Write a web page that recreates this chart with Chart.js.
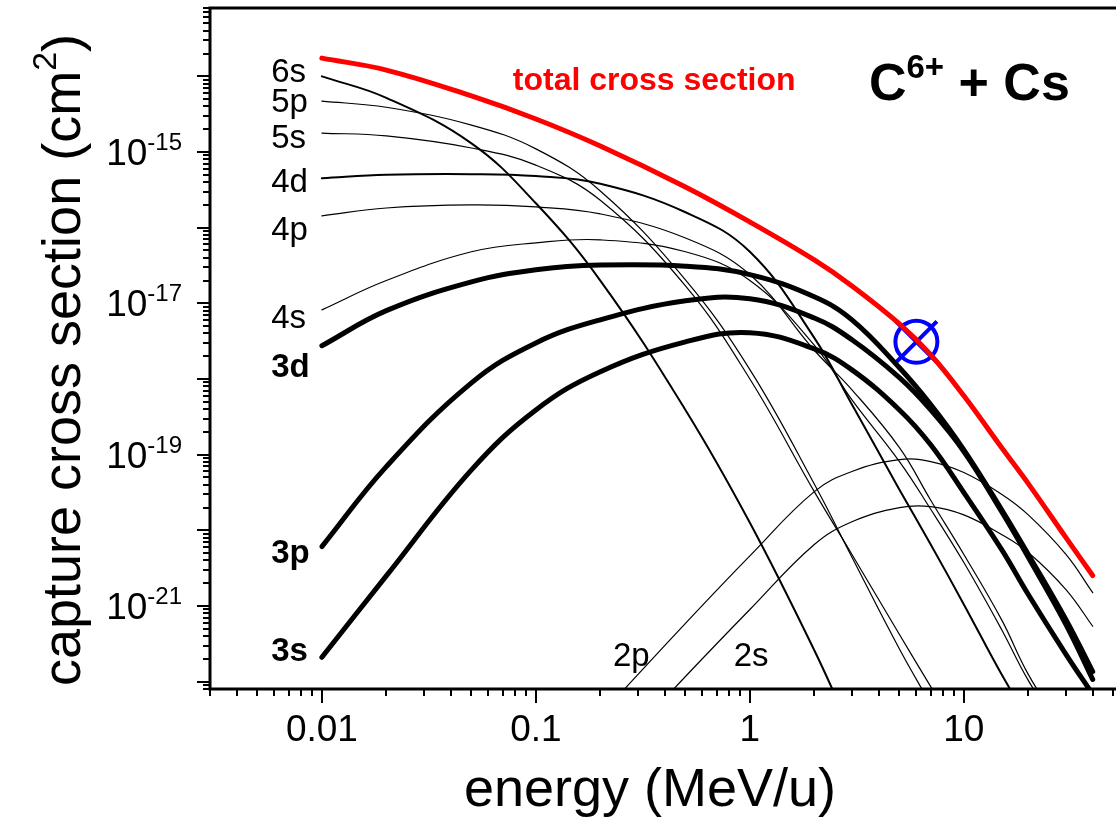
<!DOCTYPE html>
<html>
<head>
  <meta charset="utf-8">
  <title>C6+ + Cs capture cross sections</title>
  <script src="https://cdn.jsdelivr.net/npm/chart.js"></script>
  <style>
    html, body { margin: 0; padding: 0; background: #fff; }
    #wrap { width: 1116px; height: 821px; }
  </style>
</head>
<body>
  <div id="wrap"><canvas id="chart"></canvas></div>

  <script>
    // energy grid (MeV/u), shared by every curve
    const energy = [0.01, 0.02, 0.05, 0.1, 0.2, 0.5, 1, 2, 3, 5, 7, 10, 15, 20, 30, 40];

    // capture cross sections (cm^2), null = not drawn
    const total = [1.74e-14, 1.21e-14, 5.5e-15, 2.73e-15, 1.2e-15, 3.45e-16, 1.19e-16, 3.75e-17, 1.7e-17, 5.36e-18, 2.09e-18, 6.0e-19, 1.24e-19, 4.14e-20, 8.0e-21, 2.53e-21];
    const s6s = [1.0e-14, 5.2e-15, 1.3e-15, 2.1e-16, 2.0e-17, 3.9e-19, 1.26e-20, 2.6e-22, 2.1e-23, null, null, null, null, null, null, null];
    const s5p = [4.7e-15, 3.9e-15, 2.27e-15, 1.1e-15, 3.05e-16, 2.04e-17, 1.33e-18, 4.1e-20, 4.4e-21, 2.7e-22, 5.0e-23, null, null, null, null, null];
    const s5s = [1.78e-15, 1.63e-15, 1.13e-15, 6.7e-16, 2.3e-16, 1.7e-17, 1.0e-18, 3.25e-20, 4.8e-21, 4.2e-22, 8.6e-23, 1.6e-23, null, null, null, null];
    const s4d = [4.5e-16, 5.0e-16, 5.1e-16, 4.8e-16, 3.8e-16, 1.6e-16, 4.8e-17, 3.5e-18, 4.6e-19, 3.45e-20, 6.5e-21, 1.05e-21, 1.25e-22, 3.2e-23, null, null];
    const s4p = [1.43e-16, 1.82e-16, 2.0e-16, 1.88e-16, 1.52e-16, 7.3e-17, 2.4e-17, 2.4e-18, 7.2e-19, 1.24e-19, 2.5e-20, 4.8e-21, 6.6e-22, 1.25e-22, 2.0e-23, null];
    const s4s = [8.2e-18, 2.0e-17, 4.8e-17, 6.3e-17, 6.9e-17, 4.8e-17, 2.0e-17, 2.8e-18, 5.3e-19, 8.1e-20, 1.9e-20, 3.75e-21, 4.9e-22, 1.04e-22, 1.7e-23, null];
    const s3d = [2.75e-18, 8.0e-18, 1.92e-17, 2.77e-17, 3.2e-17, 3.1e-17, 2.4e-17, 1.22e-17, 6.05e-18, 1.41e-18, 4.6e-19, 1.16e-19, 1.88e-20, 4.8e-21, 6.6e-22, 1.36e-22];
    const s3p = [6.1e-21, 6.95e-20, 8.9e-19, 3.0e-18, 6.05e-18, 1.08e-17, 1.15e-17, 6.4e-18, 3.3e-18, 1.04e-18, 3.9e-19, 1.1e-19, 1.77e-20, 4.4e-21, 5.7e-22, 1.07e-22];
    const s3s = [2.1e-22, 2.5e-21, 6.3e-20, 3.9e-19, 1.25e-18, 3.1e-18, 4.1e-18, 2.5e-18, 1.32e-18, 3.9e-19, 1.35e-19, 3.15e-20, 5.6e-21, 1.42e-21, 2.3e-22, 6.8e-23];
    const s2p = [null, null, null, null, 3.6e-23, 5.9e-22, 4.6e-21, 3.25e-20, 6.0e-20, 8.6e-20, 8.1e-20, 5.8e-20, 3.0e-20, 1.6e-20, 4.8e-21, 1.5e-21];
    const s2s = [null, null, null, null, 7.2e-24, 1.17e-22, 9.0e-22, 6.5e-21, 1.3e-20, 2.0e-20, 2.06e-20, 1.6e-20, 8.8e-21, 5.1e-21, 1.65e-21, 5.4e-22];

    // experimental point (circle with cross)
    const expEnergy = [6.0];
    const expSigma = [3.1e-18];

    // axis ticks
    const xTickValues = [0.01, 0.1, 1, 10];
    const xTickLabels = ['0.01', '0.1', '1', '10'];
    const yTickExps = [-15, -17, -19, -21];

    const FONT = '"Liberation Sans", Arial, sans-serif';

    function pts(arr) {
      return energy.map((e, i) => ({ x: e, y: arr[i] }));
    }

    function curve(arr, width, color) {
      return {
        data: pts(arr),
        borderColor: color || '#000',
        borderWidth: width,
        pointRadius: 0,
        fill: false,
        tension: 0.4,
        borderCapStyle: 'round',
        borderJoinStyle: 'round'
      };
    }

    // draw a run of text pieces: [text, font, raise]
    function drawParts(ctx, x, y, parts, align) {
      let w = 0;
      parts.forEach(p => { ctx.font = p[1]; w += ctx.measureText(p[0]).width; });
      let cx = align === 'right' ? x - w : align === 'center' ? x - w / 2 : x;
      ctx.textAlign = 'left';
      ctx.textBaseline = 'alphabetic';
      parts.forEach(p => {
        ctx.font = p[1];
        ctx.fillText(p[0], cx, y - (p[2] || 0));
        cx += ctx.measureText(p[0]).width;
      });
    }

    // curve labels placed in data coordinates (left edge, baseline)
    const notes = [
      { t: '6s', e: 0.0058, s: 8.4e-15 },
      { t: '5p', e: 0.0058, s: 3.4e-15 },
      { t: '5s', e: 0.0058, s: 1.13e-15 },
      { t: '4d', e: 0.0058, s: 3.0e-16 },
      { t: '4p', e: 0.0058, s: 6.9e-17 },
      { t: '4s', e: 0.0058, s: 4.75e-18 },
      { t: '3d', e: 0.0058, s: 1.07e-18, bold: true },
      { t: '3p', e: 0.0058, s: 3.75e-21, bold: true },
      { t: '3s', e: 0.0058, s: 1.85e-22, bold: true },
      { t: '2p', e: 0.229, s: 1.6e-22 },
      { t: '2s', e: 0.84, s: 1.6e-22 }
    ];

    const axesPlugin = {
      id: 'axesPlugin',
      afterDraw(chart) {
        const { ctx, chartArea: a, scales: { x, y } } = chart;
        ctx.save();
        ctx.fillStyle = '#000';
        ctx.strokeStyle = '#000';

        // frame (left, bottom, top)
        ctx.lineWidth = 3;
        ctx.beginPath();
        ctx.moveTo(a.left - 1.5, a.top); ctx.lineTo(a.right, a.top);
        ctx.moveTo(a.left, a.top); ctx.lineTo(a.left, a.bottom);
        ctx.moveTo(a.left - 1.5, a.bottom); ctx.lineTo(a.right, a.bottom);
        ctx.stroke();

        // tick marks, 1..9 in every decade
        ctx.lineWidth = 2;
        ctx.beginPath();
        for (let d = -3; d <= 1; d++) {
          for (let m = 1; m <= 9; m++) {
            const v = m * Math.pow(10, d);
            if (v < x.min || v > x.max) continue;
            const px = Math.round(x.getPixelForValue(v));
            ctx.moveTo(px, a.bottom);
            ctx.lineTo(px, a.bottom + (m === 1 ? 14 : 7));
          }
        }
        for (let d = -23; d <= -14; d++) {
          for (let m = 1; m <= 9; m++) {
            const v = m * Math.pow(10, d);
            if (v < y.min * 0.999 || v > y.max * 1.001) continue;
            const py = Math.round(y.getPixelForValue(v));
            ctx.moveTo(a.left, py);
            ctx.lineTo(a.left - (m === 1 ? 13 : 7), py);
          }
        }
        ctx.stroke();

        // tick labels
        xTickValues.forEach((v, i) => {
          drawParts(ctx, x.getPixelForValue(v), 741, [[xTickLabels[i], '37px ' + FONT]], 'center');
        });
        yTickExps.forEach(e => {
          const py = y.getPixelForValue(Math.pow(10, e));
          drawParts(ctx, 182, py + 13, [['10', '37px ' + FONT], [String(e), '24px ' + FONT, 15]], 'right');
        });

        // axis titles
        drawParts(ctx, 650, 806, [['energy (MeV/u)', '54px ' + FONT]], 'center');
        ctx.save();
        ctx.translate(80, 360);
        ctx.rotate(-Math.PI / 2);
        drawParts(ctx, 0, 0, [['capture cross section (cm', '54px ' + FONT], ['2', '34px ' + FONT, 24], [')', '54px ' + FONT]], 'center');
        ctx.restore();

        // curve labels
        notes.forEach(n => {
          const f = (n.bold ? 'bold ' : '') + '33px ' + FONT;
          drawParts(ctx, x.getPixelForValue(n.e), y.getPixelForValue(n.s), [[n.t, f]], 'left');
        });

        // total label and collision system
        ctx.fillStyle = '#ff0000';
        drawParts(ctx, x.getPixelForValue(0.078), y.getPixelForValue(6.6e-15), [['total cross section', 'bold 32px ' + FONT]], 'left');
        ctx.fillStyle = '#000';
        drawParts(ctx, x.getPixelForValue(3.6), y.getPixelForValue(4.85e-15),
          [['C', 'bold 52px ' + FONT], ['6+', 'bold 33px ' + FONT, 22], [' + Cs', 'bold 52px ' + FONT]], 'left');

        ctx.restore();
      }
    };

    const datasets = [
      curve(s6s, 2),
      curve(s5p, 1.2),
      curve(s5s, 1.2),
      curve(s4d, 2),
      curve(s4p, 1.2),
      curve(s4s, 1.2),
      curve(s3d, 5),
      curve(s3p, 5),
      curve(s3s, 5),
      curve(s2p, 1.2),
      curve(s2s, 1.2),
      curve(total, 5, '#ff0000'),
      {
        data: expEnergy.map((e, i) => ({ x: e, y: expSigma[i] })),
        showLine: false,
        pointStyle: 'circle',
        pointRadius: 21,
        borderWidth: 4,
        borderColor: '#0000ff',
        backgroundColor: 'rgba(0,0,0,0)'
      },
      {
        data: expEnergy.map((e, i) => ({ x: e, y: expSigma[i] })),
        showLine: false,
        pointStyle: 'crossRot',
        pointRadius: 29,
        borderWidth: 4,
        borderColor: '#0000ff',
        backgroundColor: 'rgba(0,0,0,0)'
      }
    ];

    new Chart(document.getElementById('chart'), {
      type: 'line',
      data: { datasets: datasets },
      options: {
        responsive: true,
        maintainAspectRatio: false,
        animation: false,
        events: [],
        layout: { autoPadding: false, padding: { left: 210, top: 8, right: 0, bottom: 132 } },
        plugins: { legend: { display: false }, tooltip: { enabled: false } },
        scales: {
          x: { type: 'logarithmic', min: 0.003, max: 51.4, display: false },
          y: { type: 'logarithmic', min: 8e-23, max: 8e-14, display: false }
        }
      },
      plugins: [axesPlugin]
    });
  </script>
</body>
</html>
